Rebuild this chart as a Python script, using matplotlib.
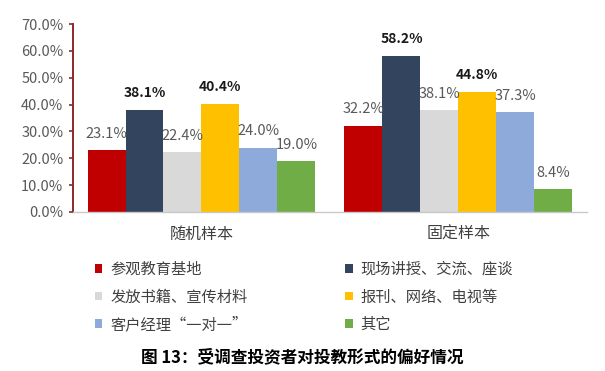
import matplotlib
matplotlib.use("Agg")
import matplotlib.pyplot as plt
import numpy as np
from matplotlib.patches import Patch

plt.rcParams['font.family'] = ['Noto Sans CJK SC', 'DejaVu Sans']

groups = ["随机样本", "固定样本"]
series = ["参观教育基地", "现场讲授、交流、座谈", "发放书籍、宣传材料",
          "报刊、网络、电视等", "客户经理“一对一”", "其它"]
values = [
    [23.1, 32.2],
    [38.1, 58.2],
    [22.4, 38.1],
    [40.4, 44.8],
    [24.0, 37.3],
    [19.0, 8.4],
]
colors = ["#C00000", "#33445F", "#D9D9D9", "#FFC000", "#8EAADB", "#70AD47"]
bold_series = [1, 3]
yticks = [0, 10, 20, 30, 40, 50, 60, 70]
title = "图 13：受调查投资者对投教形式的偏好情况"

fig = plt.figure(figsize=(6.05, 3.71), dpi=100)
ax = fig.add_axes([0.1207, 0.4286, 0.970 - 0.1207, 0.935 - 0.4286])

x = np.arange(len(groups))
n = len(series)
gw = 0.887
bw = gw / n
for i in range(n):
    xs = x - gw / 2 + bw * (i + 0.5)
    ax.bar(xs, values[i], width=bw, color=colors[i], linewidth=0)
    for xx, v in zip(xs, values[i]):
        if i in bold_series:
            ax.text(xx, v + 3.6, f"{v:.1f}%", ha="center", va="bottom",
                    fontsize=10, fontweight="bold", color="#1a1a1a")
        else:
            ax.text(xx, v + 3.4, f"{v:.1f}%", ha="center", va="bottom",
                    fontsize=10.5, color="#595959")

ax.set_xlim(-0.5, 1.5)
ax.set_ylim(0, 70)
ax.set_yticks(yticks)
ax.set_yticklabels([f"{t:.1f}%" for t in yticks], fontsize=10.5, color="#595959")
ax.set_xticks(x)
ax.set_xticklabels(groups, fontsize=11.5, color="#404040")
ax.tick_params(axis="x", length=0, pad=10)
ax.tick_params(axis="y", length=3, color="#8B2A2A", width=1.2, pad=4)
for s in ["top", "right"]:
    ax.spines[s].set_visible(False)
ax.spines["left"].set_color("#8B2A2A")
ax.spines["left"].set_linewidth(1.4)
ax.spines["bottom"].set_color("#C8C8C8")
ax.spines["bottom"].set_linewidth(1.0)

handles = [Patch(facecolor=c, edgecolor="none") for c in colors]
order = [0, 2, 4, 1, 3, 5]
leg = fig.legend([handles[k] for k in order], [series[k] for k in order],
                 ncol=2, loc="upper left", bbox_to_anchor=(0.134, 0.334),
                 frameon=False, fontsize=11, handlelength=0.5, handleheight=0.5,
                 handletextpad=0.5, columnspacing=6.4, labelspacing=0.7,
                 labelcolor="#404040")

fig.text(0.5, 0.038, title, ha="center", va="center", fontsize=12,
         fontweight="bold", color="#000000")

fig.savefig("out.png", dpi=100)
